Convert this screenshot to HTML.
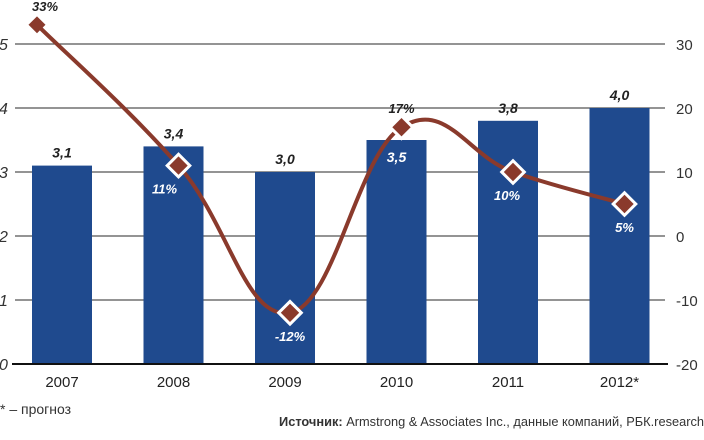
<!DOCTYPE html>
<html><head><meta charset="utf-8"><style>
body{margin:0;background:#fff;width:704px;height:435px;overflow:hidden}
svg{font-family:"Liberation Sans",sans-serif}
</style></head><body>
<svg id="c" width="704" height="435"></svg>
<script>
const categories=["2007","2008","2009","2010","2011","2012*"];
const barValues=[3.1,3.4,3.0,3.5,3.8,4.0];
const barLabels=["3,1","3,4","3,0","3,5","3,8","4,0"];
const growthValues=[33,11,-12,17,10,5];
const growthLabels=["33%","11%","-12%","17%","10%","5%"];
const leftTicks=[0,1,2,3,4,5];
const rightTicks=[-20,-10,0,10,20,30];
const svg=document.getElementById('c');const NS='http://www.w3.org/2000/svg';
function mk(t,a,p){const e=document.createElementNS(NS,t);for(const k in a)e.setAttribute(k,a[k]);(p||svg).appendChild(e);return e;}
const y0=364,yTop=44;
const yL=v=>y0-(v/5)*(y0-yTop);
const yR=v=>y0-((v+20)/50)*(y0-yTop);
const band=111.5;
const xc=i=>62+band*i;
leftTicks.forEach(t=>{if(t>0){const l=mk('line',{x1:15,x2:665,y1:yL(t),y2:yL(t),stroke:'#555','stroke-width':1.2});
}
const tx=mk('text',{x:-1,y:yL(t)+6,'font-size':16,fill:'#333','font-style':'italic'});tx.textContent=t;
});
rightTicks.forEach(t=>{const tx=mk('text',{x:676,y:yR(t)+6,'font-size':15,fill:'#333'});tx.textContent=t;
});
barValues.forEach((v,i)=>{const r=mk('rect',{x:xc(i)-30,y:yL(v),width:60,height:y0-yL(v),fill:'#1f4a8e'});

const inside=i===3;
const t=mk('text',{x:xc(i),y:inside?yL(v)+22:yL(v)-8,'text-anchor':'middle','font-size':14,'font-weight':'bold','font-style':'italic',fill:inside?'#fff':'#222'});t.textContent=barLabels[i];

const c=mk('text',{x:xc(i),y:387,'text-anchor':'middle','font-size':15,fill:'#222'});c.textContent=categories[i];
});
const ax=mk('line',{x1:12,x2:668,y1:y0,y2:y0,stroke:'#111','stroke-width':2});

const px=growthValues.map((v,i)=>i===0?xc(0)-25:xc(i)+5);
const py=growthValues.map(v=>yR(v));
let d='M'+px[0]+','+py[0];
for(let i=0;i<px.length-1;i++){const p0=[px[Math.max(i-1,0)],py[Math.max(i-1,0)]],p1=[px[i],py[i]],p2=[px[i+1],py[i+1]],p3=[px[Math.min(i+2,px.length-1)],py[Math.min(i+2,px.length-1)]];
const k=0.2;d+=' C'+(p1[0]+(p2[0]-p0[0])*k)+','+(p1[1]+(p2[1]-p0[1])*k)+' '+(p2[0]-(p3[0]-p1[0])*k)+','+(p2[1]-(p3[1]-p1[1])*k)+' '+p2[0]+','+p2[1];}
const ln=mk('path',{d:d,fill:'none',stroke:'#8a3a2c','stroke-width':4});

growthValues.forEach((v,i)=>{const s=i===0?6:8;
const m=mk('rect',{x:px[i]-s,y:py[i]-s,width:2*s,height:2*s,fill:'#8a3a2c',stroke:'#fff','stroke-width':i===0?0:3,transform:`rotate(45 ${px[i]} ${py[i]})`});

let ly=(i===0||i===3)?py[i]-14:py[i]+28, lx=px[i];
if(i===0)lx=px[i]+8;
if(i===1)lx=px[i]-14;
if(i===4)lx=px[i]-6;
const inBar=i!==0&&i!==3;
const t=mk('text',{x:lx,y:ly,'text-anchor':'middle','font-size':13,'font-weight':'bold','font-style':'italic',fill:inBar?'#fff':'#222'});t.textContent=growthLabels[i];
});
const f=mk('text',{x:0,y:414,'font-size':14,fill:'#333'});f.textContent='* – прогноз';

const s=mk('text',{x:704,y:426,'text-anchor':'end','font-size':13,fill:'#333',textLength:425,lengthAdjust:'spacingAndGlyphs'});
s.innerHTML='<tspan font-weight="bold">Источник:</tspan> Armstrong &amp; Associates Inc., данные компаний, РБК.research';

</script></body></html>
